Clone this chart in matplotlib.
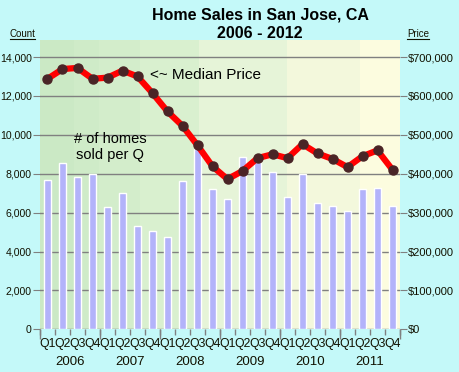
import matplotlib
matplotlib.use("Agg")
import matplotlib.pyplot as plt
from matplotlib.patches import Rectangle
from matplotlib.ticker import FuncFormatter

plt.rcParams['font.family'] = ['Liberation Sans', 'DejaVu Sans']

years = ['2006', '2007', '2008', '2009', '2010', '2011']
quarters = ['Q1', 'Q2', 'Q3', 'Q4']
homes_sold = [7660, 8540, 7820, 7970, 6270, 6990, 5330, 5040, 4760, 7610, 9250, 7200,
              6680, 8840, 8590, 8100, 6820, 8000, 6510, 6360, 6100, 7230, 7280, 6360]
median_price = [644000, 669000, 672000, 644000, 647000, 665000, 650000, 607000,
                560000, 523000, 473000, 419000, 386000, 407000, 440000, 450000,
                440000, 476000, 452000, 438000, 417000, 445000, 460000, 410000]

count_ticks = [0, 2000, 4000, 6000, 8000, 10000, 12000, 14000]
price_ticks = [0, 100000, 200000, 300000, 400000, 500000, 600000, 700000]

n = len(homes_sold)
xpos = list(range(n))
qlabels = [quarters[i % 4] for i in range(n)]

fig = plt.figure(figsize=(4.6, 3.72), dpi=100)
fig.patch.set_facecolor('#c4f9f9')
ax = fig.add_axes([40/460, 1-329.3/372, 360/460, 289.3/372])
ax.set_facecolor('none')

# background bands
band_edges = [0, 0.095, 0.165, 0.278, 0.4425, 0.686, 0.889, 1.0]
band_colors = ['#cbe9c5', '#cfebc8', '#d3edcb', '#d9f0cf', '#e6f4d8', '#f3f8dc', '#fcfcdf']
for i, c in enumerate(band_colors):
    ax.add_patch(Rectangle((band_edges[i], 0), band_edges[i+1]-band_edges[i], 1,
                           transform=ax.transAxes, facecolor=c, edgecolor='none', zorder=-5))

ax.bar(xpos, homes_sold, width=0.45, color='#b3b3fa', edgecolor='white', linewidth=1, zorder=2)
ax.set_xlim(-0.5, n-0.5)
ax.set_ylim(0, 14875)
ax.set_yticks(count_ticks)
ax.yaxis.set_major_formatter(FuncFormatter(lambda v, p: f'{int(v):,}'))
ax.grid(axis='y', color='#808080', linewidth=1, zorder=0)
ax.set_axisbelow(True)
for s in ax.spines.values():
    s.set_visible(False)
ax.tick_params(axis='y', length=5, color='#808080', labelsize=7.6, pad=1, labelcolor='#111100')

# quarter labels and boundary ticks
ax.set_xticks(xpos)
ax.set_xticklabels(qlabels)
ax.set_xticks([x - 0.5 for x in range(n+1)], minor=True)
ax.tick_params(axis='x', which='major', length=0, labelsize=8.8, pad=6, labelcolor='#111100')
ax.tick_params(axis='x', which='minor', length=4, color='#808080', width=1)

sec = ax.secondary_xaxis('bottom')
sec.set_xticks([4*k - 0.5 for k in range(len(years)+1)])
sec.set_xticklabels([''] * (len(years)+1))
sec.tick_params(length=7, color='#808080', width=1)
for s in sec.spines.values():
    s.set_visible(False)

sec2 = ax.secondary_xaxis('bottom')
sec2.set_xticks([4*k + 1.5 for k in range(len(years))])
sec2.set_xticklabels(years)
sec2.tick_params(length=0, pad=19, labelsize=9.5, labelcolor='#111100')
for s in sec2.spines.values():
    s.set_visible(False)

ax2 = ax.twinx()
ax2.set_ylim(0, 14875 * 50)
ax2.set_yticks(price_ticks)
ax2.yaxis.set_major_formatter(FuncFormatter(lambda v, p: f'${int(v):,}'))
ax2.tick_params(axis='y', length=5, color='#808080', labelsize=8, pad=1, labelcolor='#111100')
for s in ax2.spines.values():
    s.set_visible(False)
ax2.plot(xpos, median_price, color='#ff0000', linewidth=4.5, marker='o',
         markersize=6.5, markerfacecolor='#4a2426', markeredgecolor='#4a2426', zorder=5)

fig.text(260/460, 1-15/372, 'Home Sales in San Jose, CA', ha='center', va='center',
         fontsize=11.5, fontweight='bold')
fig.text(260/460, 1-33/372, '2006 - 2012', ha='center', va='center',
         fontsize=11.5, fontweight='bold')
fig.text(22/460, 1-34/372, 'Count', ha='center', va='center', fontsize=7, color='#111100')
fig.text(418/460, 1-34/372, 'Price', ha='center', va='center', fontsize=7, color='#111100')
# underlines
fig.add_artist(plt.Line2D([10/460, 35/460], [1-39/372, 1-39/372], color='#111100', linewidth=0.8))
fig.add_artist(plt.Line2D([407/460, 429/460], [1-39/372, 1-39/372], color='#111100', linewidth=0.8))

fig.text(150/460, 1-75/372, '<~ Median Price', ha='left', va='center', fontsize=11)
fig.text(110/460, 1-147/372, '# of homes\nsold per Q', ha='center', va='center',
         fontsize=10.5, linespacing=1.1)

fig.savefig('out.png', dpi=100, facecolor=fig.get_facecolor())
